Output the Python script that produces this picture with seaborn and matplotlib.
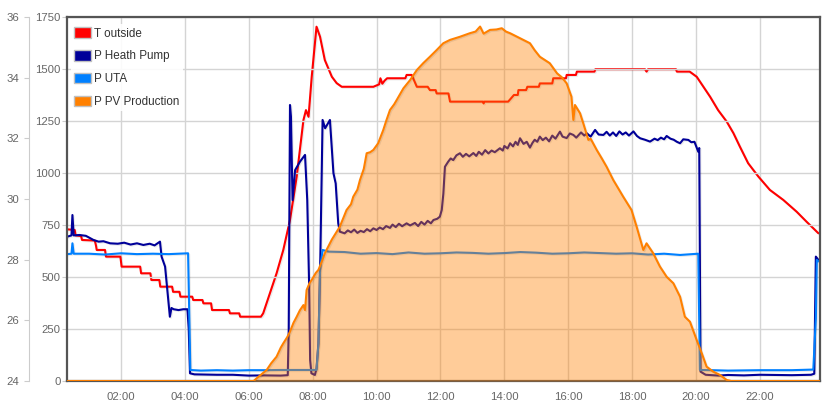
import numpy as np
import pandas as pd
import matplotlib
matplotlib.use("Agg")
import matplotlib.pyplot as plt
import matplotlib.patheffects as pe
from matplotlib.patches import Patch
import seaborn as sns

sns.set_theme(style="white")
plt.rcParams["font.family"] = ["Liberation Sans", "DejaVu Sans"]

# Times in hours of the day
temp_t = [0.32, 0.55, 0.58, 0.75, 0.78, 1.18, 1.22, 1.24, 1.5, 1.53, 1.98, 2.02, 2.6, 2.63,
          2.92, 2.95, 3.2, 3.23, 3.6, 3.63, 3.83, 3.86, 4.23, 4.26, 4.55, 4.58, 4.82, 4.85,
          5.38, 5.41, 5.7, 5.73, 6.38, 6.45, 6.66, 6.87, 7.08, 7.29, 7.5, 7.71, 7.79, 7.87,
          7.97, 8.12, 8.23, 8.38, 8.6, 8.75, 8.91, 9.9, 10.08, 10.12, 10.18, 10.25, 10.33,
          10.9, 10.94, 11.1, 11.26, 11.6, 11.67, 11.85, 11.88, 12.25, 12.3, 13.33, 13.35,
          13.37, 14.12, 14.3, 14.42, 14.44, 14.68, 14.72, 15.08, 15.11, 15.5, 15.53, 15.93,
          15.95, 16.24, 16.27, 16.82, 16.85, 18.4, 18.45, 18.5, 19.37, 19.4, 19.8, 20.02,
          20.23, 20.44, 20.69, 20.96, 21.17, 21.37, 21.63, 21.95, 22.31, 22.73, 23.15,
          23.46, 23.83]
temp_v = [29.0, 28.98, 28.8, 28.78, 28.65, 28.63, 28.45, 28.32, 28.32, 28.1, 28.1, 27.77,
          27.77, 27.55, 27.55, 27.33, 27.33, 27.11, 27.11, 26.94, 26.94, 26.78, 26.78, 26.67,
          26.67, 26.56, 26.56, 26.34, 26.34, 26.23, 26.23, 26.12, 26.12, 26.23, 26.89, 27.55,
          28.32, 29.31, 30.74, 32.6, 32.93, 32.71, 34.03, 35.68, 35.35, 34.58, 34.03, 33.82,
          33.7, 33.7, 33.78, 33.98, 33.8, 33.9, 33.98, 33.98, 34.09, 34.09, 33.7, 33.7,
          33.59, 33.59, 33.48, 33.48, 33.21, 33.21, 33.15, 33.21, 33.21, 33.43, 33.43, 33.59,
          33.59, 33.7, 33.7, 33.81, 33.81, 33.98, 33.98, 34.09, 34.09, 34.2, 34.2, 34.28,
          34.28, 34.2, 34.28, 34.28, 34.2, 34.2, 34.03, 33.7, 33.37, 32.93, 32.55, 32.17,
          31.73, 31.18, 30.74, 30.3, 29.97, 29.58, 29.25, 28.87]

hp_t = [0.32, 0.45, 0.48, 0.52, 0.7, 0.9, 1.14, 1.3, 1.45, 1.66, 1.9, 2.1, 2.3, 2.5, 2.7,
        2.9, 3.05, 3.22, 3.27, 3.38, 3.53, 3.58, 3.65, 3.8, 3.95, 4.08, 4.12, 4.16, 4.3,
        5.0, 5.5, 6.0, 6.5, 7.0, 7.22, 7.25, 7.29, 7.32, 7.37, 7.45, 7.6, 7.76, 7.83, 7.89,
        7.92, 7.96, 8.07, 8.12, 8.18, 8.24, 8.31, 8.39, 8.54, 8.65, 8.72, 8.8, 8.85, 9.0,
        9.1, 9.2, 9.3, 9.4, 9.5, 9.6, 9.7, 9.8, 9.9, 10.0, 10.1, 10.2, 10.3, 10.42, 10.5,
        10.6, 10.7, 10.8, 10.94, 11.05, 11.2, 11.3, 11.4, 11.5, 11.6, 11.7, 11.78, 11.9,
        11.98, 12.04, 12.09, 12.14, 12.24, 12.32, 12.4, 12.5, 12.61, 12.7, 12.8, 12.9,
        13.03, 13.12, 13.2, 13.3, 13.4, 13.5, 13.6, 13.7, 13.86, 13.95, 14.0, 14.1, 14.18,
        14.27, 14.35, 14.42, 14.49, 14.6, 14.7, 14.8, 14.88, 14.95, 15.03, 15.11, 15.2,
        15.3, 15.4, 15.5, 15.6, 15.74, 15.82, 15.95, 16.05, 16.16, 16.25, 16.4, 16.5,
        16.58, 16.7, 16.84, 16.95, 17.1, 17.2, 17.3, 17.4, 17.5, 17.6, 17.7, 17.8, 17.9,
        18.04, 18.15, 18.25, 18.4, 18.56, 18.7, 18.8, 18.9, 19.0, 19.08, 19.2, 19.3, 19.4,
        19.5, 19.6, 19.76, 19.85, 19.95, 20.07, 20.1, 20.14, 20.3, 20.7, 21.0, 21.5, 22.0,
        22.5, 23.0, 23.6, 23.7, 23.75, 23.83]
hp_p = [694, 700, 798, 700, 702, 698, 678, 670, 672, 662, 660, 665, 656, 662, 654, 660, 652,
        670, 598, 550, 309, 351, 345, 341, 345, 345, 250, 37, 32, 30, 30, 26, 27, 26, 28,
        245, 1327, 1271, 870, 1014, 1054, 1087, 870, 453, 101, 37, 29, 60, 181, 598, 1255,
        1215, 1255, 999, 950, 758, 718, 710,
        724, 715, 728, 712, 722, 716, 730, 720, 734, 726, 738, 730, 745, 736, 752,
        740, 756, 744, 758, 748, 760, 745, 765, 752, 770, 758, 774, 780,
        790, 822, 900, 1030, 1054, 1070, 1062, 1085, 1095, 1078, 1092, 1080,
        1096, 1082, 1102, 1088, 1110, 1094, 1108, 1100, 1119, 1108, 1130, 1118, 1143,
        1128, 1150, 1135, 1167, 1140, 1150, 1122, 1145, 1160, 1150, 1175, 1158,
        1170, 1152, 1180, 1165, 1199, 1175, 1168, 1190, 1183, 1170, 1195, 1180,
        1191, 1175, 1207, 1185, 1183, 1198, 1180, 1195, 1178, 1200, 1185, 1195, 1180,
        1200, 1178, 1167, 1160, 1151, 1165, 1158, 1170, 1162, 1178, 1165, 1160, 1150,
        1143, 1162, 1159, 1148, 1150, 1102, 1120, 45, 30, 26, 29, 27, 30,
        29, 28, 30, 35, 598, 582]

uta_t = [0.32, 0.45, 0.48, 0.52, 1.0, 1.5, 2.0, 2.5, 3.0, 3.5, 4.1, 4.14, 4.17, 4.5, 5.0,
         5.5, 6.0, 6.5, 7.0, 7.5, 8.12, 8.18, 8.23, 8.31, 8.5, 9.0, 9.5, 10.0, 10.5, 11.0,
         11.5, 12.0, 12.5, 13.0, 13.5, 14.0, 14.5, 15.0, 15.5, 16.0, 16.5, 17.0, 17.5, 18.0,
         18.5, 19.0, 19.5, 20.07, 20.12, 20.5, 21.0, 22.0, 23.0, 23.67, 23.75, 23.78, 23.83]
uta_p = [610, 612, 662, 612, 612, 608, 614, 610, 612, 610, 614, 300, 53, 50, 52, 50, 52,
         52, 53, 53, 53, 181, 534, 630, 622, 620, 612, 615, 610, 618, 612, 614, 618, 616,
         612, 615, 620, 617, 612, 614, 618, 615, 612, 614, 608, 612, 606, 612, 53, 52, 50,
         52, 52, 55, 300, 582, 575]

pv_t = [0.32, 6.15, 6.3, 6.56, 6.7, 6.87, 7.0, 7.08, 7.2, 7.29, 7.4, 7.5, 7.6, 7.71, 7.76,
        7.81, 7.9, 7.97, 8.1, 8.18, 8.3, 8.38, 8.6, 8.85, 9.06, 9.2, 9.27, 9.4, 9.48, 9.6,
        9.69, 9.8, 9.9, 10.05, 10.21, 10.3, 10.42, 10.55, 10.63, 10.84, 11.05, 11.26,
        11.46, 11.67, 11.88, 12.09, 12.3, 12.61, 12.92, 13.1, 13.24, 13.35, 13.55, 13.75,
        13.92, 14.05, 14.18, 14.49, 14.8, 14.95, 15.11, 15.3, 15.42, 15.65, 15.8, 15.95,
        16.1, 16.16, 16.21, 16.37, 16.47, 16.63, 16.7, 16.89, 17.05, 17.2, 17.41, 17.55,
        17.72, 17.98, 18.14, 18.35, 18.45, 18.66, 18.87, 19.08, 19.29, 19.5, 19.65, 19.81,
        20.02, 20.18, 20.33, 20.54, 20.75, 20.96, 21.1, 23.88]
pv_p = [0, 0, 20, 53, 85, 117, 160, 181, 210, 237, 280, 309, 340, 365, 341, 437, 470, 486,
        520, 534, 580, 614, 680, 742, 822, 850, 886, 920, 966, 1020, 1095, 1100, 1111,
        1143, 1207, 1250, 1303, 1330, 1351, 1407, 1447, 1495, 1528, 1559, 1591, 1624,
        1640, 1655, 1672, 1680, 1704, 1670, 1688, 1690, 1696, 1680, 1672, 1648, 1624,
        1590, 1559, 1540, 1528, 1479, 1460, 1431, 1367, 1255, 1327, 1287, 1239, 1159,
        1165, 1111, 1070, 1030, 966, 930, 886, 822, 742, 630, 662, 614, 550, 501, 470, 405,
        309, 285, 197, 133, 69, 45, 29, 5, 0, 0]

labels = ["T outside", "P Heath Pump", "P UTA", "P PV Production"]
colors = ["#ff0000", "#000099", "#0080ff", "#ff8000"]
hour_ticks = list(range(2, 24, 2))
hour_labels = ["%02d:00" % h for h in hour_ticks]

W, H = 829, 412
fig = plt.figure(figsize=(W / 100, H / 100), dpi=100)
ax = fig.add_axes([67 / W, 1 - 381 / H, (820 - 67) / W, (381 - 17) / H])
ax2 = ax.twinx()

shadow = [pe.SimpleLineShadow(offset=(0.8, -0.8), shadow_color="black", alpha=0.08),
          pe.Normal()]

# temperature on the outer axis (drawn underneath)
sns.lineplot(x=temp_t, y=temp_v, ax=ax, color=colors[0], lw=1.5, sort=False,
             estimator=None, zorder=2, path_effects=shadow)
ax.set_ylim(24, 36)
ax.set_yticks(range(24, 37, 2))
ax.set_xlim(0.31, 23.88)
ax.set_xticks(hour_ticks)
ax.set_xticklabels(hour_labels)
ax.grid(axis="x", color="#d4d4d4", lw=1)
ax.grid(axis="y", visible=False)
for s in ["top", "right", "bottom"]:
    ax.spines[s].set_visible(False)
ax.spines["left"].set_position(("outward", 27))
ax.spines["left"].set_color("#cccccc")
ax.spines["left"].set_linewidth(0.8)
ax.tick_params(axis="y", left=True, length=3.6, width=0.8, color="#cccccc", pad=4,
               labelsize=8.2, labelcolor="#666666")
ax.tick_params(axis="x", length=0, pad=8, labelsize=8.2, labelcolor="#666666")

# power on the inner axis
sns.lineplot(x=hp_t, y=hp_p, ax=ax2, color=colors[1], lw=1.5, sort=False,
             estimator=None, zorder=2, path_effects=shadow)
sns.lineplot(x=uta_t, y=uta_p, ax=ax2, color=colors[2], lw=1.5, sort=False,
             estimator=None, zorder=2, path_effects=shadow)
ax2.fill_between(pv_t, pv_p, 0, color=colors[3], alpha=0.4, lw=0, zorder=3)
sns.lineplot(x=pv_t, y=pv_p, ax=ax2, color=colors[3], lw=1.5, sort=False,
             estimator=None, zorder=4, path_effects=shadow)
ax2.set_ylim(0, 1750)
ax2.set_yticks(range(0, 1751, 250))
ax2.set_ylabel("")
ax.set_ylabel("")
ax2.yaxis.tick_left()
ax2.set_axisbelow(True)
ax2.grid(axis="y", color="#d4d4d4", lw=1)
ax2.tick_params(axis="y", left=True, right=False, length=3.5, width=0.8,
                color="#cccccc", pad=1, labelsize=8.2, labelcolor="#666666")
for s in ["top", "right", "bottom", "left"]:
    ax2.spines[s].set_visible(True)
    ax2.spines[s].set_color("#555555")
    ax2.spines[s].set_linewidth(1.6)

handles = [Patch(facecolor=c, edgecolor="#c0c0c0", linewidth=1) for c in colors]
leg = ax2.legend(handles, labels, loc="upper left", bbox_to_anchor=(0.005, 0.981),
                 borderaxespad=0, frameon=True, fancybox=False, edgecolor="none",
                 facecolor="white", framealpha=0.9, fontsize=8.4, handlelength=1.45,
                 handleheight=1.0, handletextpad=0.25, labelspacing=0.9, borderpad=0.3)
for t in leg.get_texts():
    t.set_color("#333333")
leg.set_zorder(10)

fig.savefig("out.png", dpi=100)
